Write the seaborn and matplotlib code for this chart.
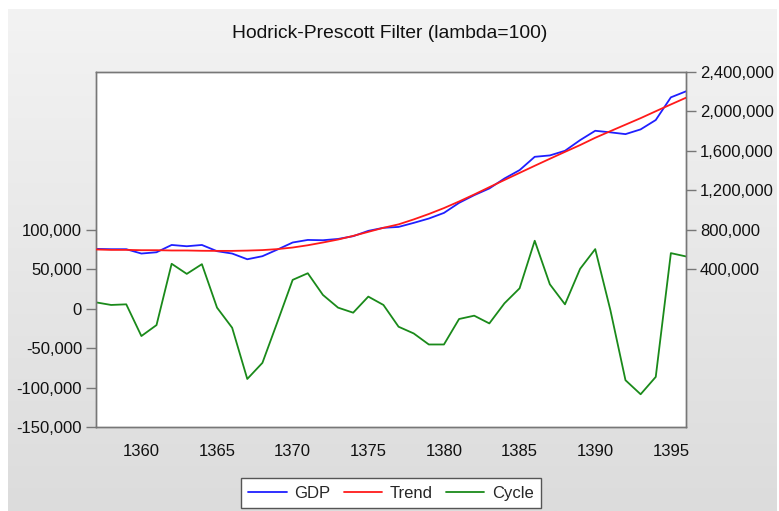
import numpy as np
import pandas as pd
import matplotlib
matplotlib.use("Agg")
import matplotlib.pyplot as plt
import seaborn as sns
from matplotlib.ticker import FuncFormatter, MultipleLocator
from matplotlib.colors import LinearSegmentedColormap
from matplotlib.lines import Line2D

years = list(range(1357, 1397))

gdp = [606000, 603000, 603000, 559000, 572000, 646000, 633000, 646000, 583000, 559000,
       501000, 532000, 600000, 671000, 697000, 694000, 707000, 735000, 789000, 820000,
       829000, 870000, 914000, 971000, 1073000, 1151000, 1219000, 1320000, 1405000, 1540000,
       1554000, 1601000, 1709000, 1804000, 1788000, 1770000, 1818000, 1913000, 2143000, 2204000]

trend = [600000, 596000, 596000, 593000, 593000, 590000, 590000, 587000, 586000, 586000,
         589000, 594000, 604000, 620000, 643000, 671000, 701000, 738000, 779000, 820000,
         855000, 905000, 960000, 1020000, 1087000, 1158000, 1232000, 1305000, 1377000, 1449000,
         1520000, 1590000, 1659000, 1733000, 1800000, 1866000, 1932000, 2002000, 2071000, 2139000]

cycle = [8000, 4700, 5500, -34700, -20800, 56900, 44100, 56400, 1300, -24200,
         -89100, -68700, -16500, 36500, 44900, 17400, 1300, -5100, 15300, 4700,
         -22900, -31400, -45400, -45400, -13100, -8900, -18700, 6800, 25800, 86100,
         30900, 5500, 50500, 75500, -1700, -90700, -108500, -86500, 70400, 66200]

left_ticks = [-150000, -100000, -50000, 0, 50000, 100000]
right_ticks = [400000, 800000, 1200000, 1600000, 2000000, 2400000]
title = "Hodrick-Prescott Filter (lambda=100)"

df = pd.DataFrame({"year": years, "GDP": gdp, "Trend": trend, "Cycle": cycle})

sns.set_theme(style="white")
plt.rcParams["font.family"] = ["Liberation Sans", "DejaVu Sans"]

W, H = 779, 511
fig = plt.figure(figsize=(W / 100, H / 100), dpi=100)
fig.patch.set_facecolor("white")

# gradient panel background
bg = fig.add_axes([8 / W, 0, (777 - 8) / W, 1 - 9 / H], zorder=-5)
cmap = LinearSegmentedColormap.from_list("g", ["#f3f3f3", "#dcdcdc"])
grad = np.linspace(0, 1, 256).reshape(-1, 1)
bg.imshow(grad, aspect="auto", cmap=cmap, extent=[0, 1, 0, 1], origin="upper")
bg.set_axis_off()

left, right, top, bottom = 96, 686, 72, 427
ax = fig.add_axes([left / W, 1 - bottom / H, (right - left) / W, (bottom - top) / H])
ax.set_facecolor("white")

green = "#1a8a1a"
blue = "#1f1fff"
red = "#ff1a1a"

sns.lineplot(data=df, x="year", y="Cycle", ax=ax, color=green, linewidth=1.3, legend=False)
ax2 = ax.twinx()
sns.lineplot(data=df, x="year", y="Trend", ax=ax2, color=red, linewidth=1.3, legend=False)
sns.lineplot(data=df, x="year", y="GDP", ax=ax2, color=blue, linewidth=1.3, legend=False)
ax2.lines[0].set_zorder(3)

ax.set_xlim(1357, 1396)
ax.set_ylim(-150000, 300000)
ax2.set_ylim(-1200000, 2400000)
ax.set_yticks(left_ticks)
ax2.set_yticks(right_ticks)
fmt = FuncFormatter(lambda v, p: f"{int(v):,}")
ax.yaxis.set_major_formatter(fmt)
ax2.yaxis.set_major_formatter(fmt)
ax.xaxis.set_major_locator(MultipleLocator(5))
ax.xaxis.set_minor_locator(MultipleLocator(1))

for a in (ax, ax2):
    a.set_xlabel("")
    a.set_ylabel("")
    for s in a.spines.values():
        s.set_color("#777777")
        s.set_linewidth(1.0)
    a.tick_params(axis="both", which="major", direction="out", length=7, width=1,
                  color="#777777", labelsize=12, labelcolor="#111111", pad=3)
    a.tick_params(axis="x", which="minor", direction="out", length=4, width=1, color="#777777")
ax.tick_params(axis="x", which="major", pad=5)
ax.tick_params(axis="y", left=True)
ax2.tick_params(axis="y", right=True)

fig.text(0.5, 1 - 33 / H, title, ha="center", va="center", fontsize=13.9, color="#111111")

handles = [Line2D([], [], color=blue, lw=1.3), Line2D([], [], color=red, lw=1.3),
           Line2D([], [], color=green, lw=1.3)]
leg = fig.legend(handles, ["GDP", "Trend", "Cycle"], loc="center",
                 bbox_to_anchor=(391 / W, 1 - 493 / H), ncol=3, fontsize=12,
                 frameon=True, fancybox=False, edgecolor="#555555", framealpha=1,
                 handlelength=2.3, columnspacing=0.8, handletextpad=0.45,
                 borderpad=0.45, borderaxespad=0)
leg.get_frame().set_linewidth(1.0)

fig.savefig("out.png", dpi=100)
